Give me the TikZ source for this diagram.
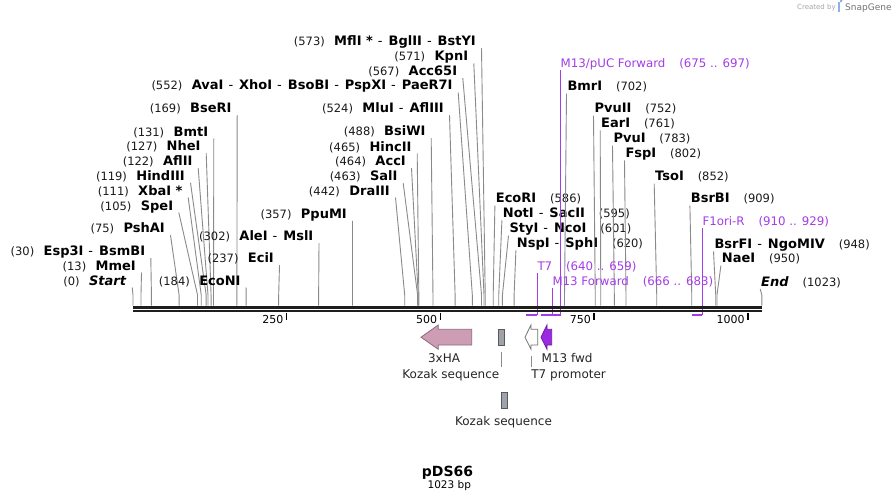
\documentclass[tikz,border=0pt]{standalone}
\usepackage{fontspec}
\setmainfont{DejaVu Sans}
\definecolor{cutgray}{HTML}{8A8A8A}
\definecolor{primc}{HTML}{A53DE6}
\definecolor{primd}{HTML}{9A2BE2}
\definecolor{hacol}{HTML}{CC9DB5}
\definecolor{hadark}{HTML}{8C6A7C}
\definecolor{kozc}{HTML}{9EA3A9}
\definecolor{bbcol}{HTML}{1E1E1E}
\newcommand\dsh{\hspace{5pt}{\mdseries -}\hspace{6pt}}
\newcommand\sitex[1]{133+0.6147*#1}
% left label: id, x end of name, baseline, number, name, site bp
\newcommand\LCut[6]{%
  \node[nm, anchor=base east] (n#1) at (#2,#3) {#5};
  \node[num, anchor=base east] (p#1) at ([xshift=-9pt]n#1.base west) {#4};
  \coordinate (a#1) at ([shift={(5.5,2.5)}]n#1.base east);
  \coordinate (b#1) at ({\sitex{#6}},295);
  \coordinate (c#1) at ({\sitex{#6}},305.5);
  \draw[cut] (a#1) -- (b#1) -- (c#1);
}
% right label: id, x start of name, baseline, name, number, site bp
\newcommand\RCut[6]{%
  \node[nm, anchor=base west] (n#1) at (#2,#3) {#4};
  \node[num, anchor=base west] (p#1) at ([xshift=13.5pt]n#1.base east) {#5};
  \coordinate (a#1) at ([shift={(-0.8,3)}]n#1.base west);
  \coordinate (b#1) at ({\sitex{#6}},295);
  \coordinate (c#1) at ({\sitex{#6}},305.5);
  \draw[cut] (a#1) -- (b#1) -- (c#1);
}
% primer label: id, x, baseline, name, range
\newcommand\PCut[5]{%
  \node[prm, anchor=base west] (n#1) at (#2,#3) {#4};
  \node[prm, anchor=base west] (p#1) at ([xshift=13.5pt]n#1.base east) {#5};
  \coordinate (a#1) at (#2,{#3+2.5});
  \coordinate (c#1) at (#2,315);
  \draw[prl] (a#1) -- (c#1);
}
\begin{document}
\begin{tikzpicture}[x=1pt,y=-1pt,
  nm/.style={font=\fontsize{13}{15}\selectfont\bfseries, inner sep=0pt, text=black},
  num/.style={font=\fontsize{11.5}{13}\selectfont, inner sep=0pt, text=black!90},
  cut/.style={draw=cutgray, line width=0.9pt},
  prm/.style={font=\fontsize{11.8}{14}\selectfont, inner sep=0pt, text=primc},
  prl/.style={draw=primc, line width=1.4pt},
  bar/.style={draw=primc, line width=2pt},
  flab/.style={font=\fontsize{12}{14}\selectfont, inner sep=0pt, text=black!85},
  flink/.style={draw=black!45, line width=0.7pt},
  tick/.style={draw=black, line width=1.6pt},
  ticklab/.style={font=\fontsize{11}{13}\selectfont, inner sep=0pt, text=black},
]
\fill[white] (0,0) rectangle (895,503);
\useasboundingbox (0,0) rectangle (895,503);

% logo
\node[font=\fontsize{7}{8}\selectfont, text=black!35, inner sep=0pt, anchor=base west] (cr) at (797,10) {Created by};
\fill[cyan!55!blue!45] (838,2.5) rectangle (840,12.5);
\fill[cyan!55!blue!45] (840,2.5) arc[start angle=90, end angle=-90, radius=2.6];
\node[font=\fontsize{9}{10}\selectfont, text=black!55, inner sep=0pt, anchor=base west] (sg) at (845,11) {SnapGene};

% left-side enzymes
\LCut{s0}{126.7}{285}{(0)}{\textit{Start}}{0}
\LCut{s13}{136}{270}{(13)}{MmeI}{13}
\LCut{s30}{145.3}{255.7}{(30)}{Esp3I\dsh BsmBI}{30}
\LCut{s75}{165}{232.7}{(75)}{PshAI}{75}
\LCut{s105}{173.3}{210}{(105)}{SpeI}{105}
\LCut{s111}{182.7}{195}{(111)}{XbaI *}{111}
\LCut{s119}{185}{180.3}{(119)}{HindIII}{119}
\LCut{s122}{192.7}{165.7}{(122)}{AflII}{122}
\LCut{s127}{200.7}{150.7}{(127)}{NheI}{127}
\LCut{s131}{208.3}{136}{(131)}{BmtI}{131}
\LCut{s169}{231.7}{112.7}{(169)}{BseRI}{169}
\LCut{s184}{240.7}{285}{(184)}{EcoNI}{184}
\LCut{s237}{274}{262.7}{(237)}{EciI}{237}
\LCut{s302}{313.5}{240.7}{(302)}{AleI\dsh MslI}{302}
\LCut{s357}{347}{218.3}{(357)}{PpuMI}{357}
\LCut{s442}{390}{195}{(442)}{DraIII}{442}
\LCut{s463}{397.7}{180.7}{(463)}{SalI}{463}
\LCut{s464}{406}{165.7}{(464)}{AccI}{464}
\LCut{s465}{411.7}{151}{(465)}{HincII}{465}
\LCut{s488}{425.7}{135.7}{(488)}{BsiWI}{488}
\LCut{s524}{444}{112.7}{(524)}{MluI\dsh AflIII}{524}
\LCut{s552}{452.7}{90}{(552)}{AvaI\dsh XhoI\dsh BsoBI\dsh PspXI\dsh PaeR7I}{552}
\LCut{s567}{457.3}{75.7}{(567)}{Acc65I}{567}
\LCut{s571}{468.3}{61}{(571)}{KpnI}{571}
\LCut{s573}{476}{45.7}{(573)}{MflI *\dsh BglII\dsh BstYI}{573}

% right-side enzymes
\RCut{s586}{495.7}{202.7}{EcoRI}{(586)}{586}
\RCut{s595}{502.7}{217.3}{NotI\dsh SacII}{(595)}{595}
\RCut{s601}{509.3}{232.7}{StyI\dsh NcoI}{(601)}{601}
\RCut{s620}{516.7}{247.3}{NspI\dsh SphI}{(620)}{620}
\RCut{s702}{567.3}{90.7}{BmrI}{(702)}{702}
\RCut{s752}{594.3}{112.7}{PvuII}{(752)}{752}
\RCut{s761}{601}{127.3}{EarI}{(761)}{761}
\RCut{s783}{613.3}{142.7}{PvuI}{(783)}{783}
\RCut{s802}{625.3}{157.3}{FspI}{(802)}{802}
\RCut{s852}{655}{180.7}{TsoI}{(852)}{852}
\RCut{s909}{690.7}{202.7}{BsrBI}{(909)}{909}
\RCut{s948}{714.3}{248.3}{BsrFI\dsh NgoMIV}{(948)}{948}
\RCut{s950}{721.7}{262.7}{NaeI}{(950)}{950}
\RCut{s1023}{761}{286}{\textit{End}}{(1023)}{1023}

% primers
\PCut{m13puc}{560.5}{67.7}{M13/pUC Forward}{(675 .. 697)}
\PCut{t7}{537.3}{270.7}{T7}{(640 .. 659)}
\PCut{m13f}{552.3}{285.7}{M13 Forward}{(666 .. 683)}
\PCut{f1r}{702.3}{225.7}{F1ori-R}{(910 .. 929)}

% backbone
\coordinate (bbA) at (133,307.3);
\coordinate (bbB) at (762,307.3);
\coordinate (bbC) at (133,311.3);
\coordinate (bbD) at (762,311.3);
\draw[draw=bbcol, line width=2.6pt] (bbA) -- (bbB);
\draw[draw=bbcol, line width=2.2pt] (bbC) -- (bbD);

% primer bars
\draw[bar] (526.2,315) -- (ct7);
\draw[bar] (541.4,315) -- (cm13f);
\draw[bar] (548,315) -- (cm13puc);
\draw[bar] (692.3,315) -- (cf1r);

% ticks
\foreach \t in {250,500,750,1000}{
  \coordinate (tk\t) at ({\sitex{\t}},312.5);
  \draw[tick] (tk\t) -- ++(0,7);
  \node[ticklab, anchor=base east] (tl\t) at ([xshift=-3pt,yshift=-11pt]tk\t) {\t};
}

% features
\draw[fill=hacol, draw=hadark, line width=0.8pt] (471.7,329.3) -- (438.3,329.3) -- (438.3,325) -- (421,337.2) -- (438.3,349.3) -- (438.3,345) -- (471.7,345) -- cycle;
\node[flab, anchor=base] (lha) at (444,362.7) {3xHA};

\draw[fill=kozc, draw=black!65, line width=0.7pt] (498.3,329.3) rectangle (504.3,345);
\coordinate (k1a) at (501.3,351.7);
\coordinate (k1b) at (501.3,367.3);
\draw[flink] (k1a) -- (k1b);
\node[flab, anchor=base east] (lk1) at (499.5,378.5) {Kozak sequence};

\draw[fill=white, draw=black!55, line width=0.8pt] (537.7,329.3) -- (531,329.3) -- (531,325) -- (525,337.2) -- (531,349.3) -- (531,345) -- (537.7,345) -- cycle;
\coordinate (t7a) at (531.7,355.7);
\coordinate (t7b) at (531.7,367.3);
\draw[flink] (t7a) -- (t7b);
\node[flab, anchor=base west] (lt7) at (531.2,378.5) {T7 promoter};

\draw[fill=primd, draw=primd!70!black, line width=0.8pt] (551.7,329.3) -- (547,329.3) -- (547,325) -- (541,337.2) -- (547,349.3) -- (547,345) -- (551.7,345) -- cycle;
\node[flab, anchor=base west] (lm13) at (541.5,362.7) {M13 fwd};

\draw[fill=kozc, draw=black!65, line width=0.7pt] (501,392.3) rectangle (507.3,408.3);
\node[flab, anchor=base] (lk2) at (503.5,425) {Kozak sequence};

% title
\node[font=\fontsize{14}{16}\selectfont\bfseries, inner sep=0pt, anchor=base] (title) at (447.5,476.7) {pDS66};
\node[font=\fontsize{10.5}{12}\selectfont, inner sep=0pt, anchor=base] (len) at (449.3,488.3) {1023 bp};
\end{tikzpicture}
\end{document}
